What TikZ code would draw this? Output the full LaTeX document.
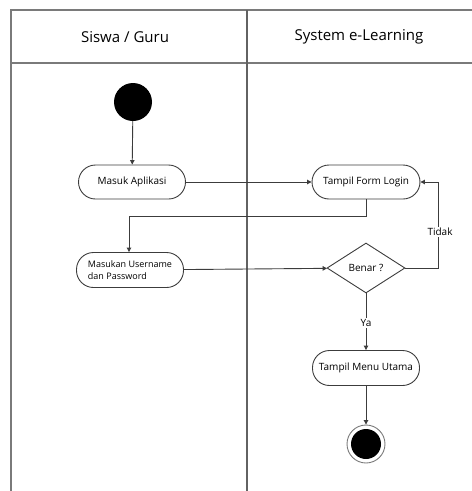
\documentclass[tikz,border=0pt]{standalone}
\usepackage{fontspec}
\setmainfont{Open Sans}
\usetikzlibrary{shapes.geometric,arrows.meta}
\definecolor{frameg}{HTML}{7A7A7A}
\definecolor{lineg}{HTML}{3C3C3C}
\tikzset{
  act/.style={draw=lineg, line width=0.9pt, rounded corners=17pt, minimum width=107pt, minimum height=34pt, inner sep=0pt, font=\fontsize{10}{12}\selectfont},
  dec/.style={draw=lineg, line width=0.9pt, diamond, aspect=1.55, minimum width=78pt, minimum height=50pt, inner sep=0pt, font=\fontsize{10}{12}\selectfont},
  flow/.style={draw=lineg, line width=0.9pt, -{Triangle[length=4.5pt,width=4.5pt]}},
  frame/.style={draw=frameg, line width=1.3pt},
  lbl/.style={fill=white, inner sep=1pt, font=\fontsize{10}{12}\selectfont},
  head/.style={font=\fontsize{15}{18}\selectfont}
}
\begin{document}
\begin{tikzpicture}[x=1pt,y=-1pt]
\useasboundingbox (0,0) rectangle (472,491);
% swimlane frame
\draw[frame] (11,491) -- (11,10) -- (472,10);
\draw[frame] (11,63) -- (472,63);
\draw[frame, draw=frameg!80!black] (247,10) -- (247,491);
\node[head] (h1) at (125,37) {Siswa / Guru};
\node[head] (h2) at (359,37) {System e-Learning};
% nodes
\node[circle, fill=black, minimum size=38pt, inner sep=0pt] (start) at (133,102) {};
\node[act] (masuk) at (132,182) {Masuk Aplikasi};
\node[act, minimum width=108pt] (form) at (366,182) {Tampil Form Login};
\node[act, minimum height=35pt, align=left, font=\fontsize{9}{12.5}\selectfont] (user) at (130,270) {Masukan Username\\dan Password};
\node[dec] (benar) at (366,268) {Benar ?};
\node[act, minimum height=35pt] (menu) at (366,368) {Tampil Menu Utama};
\node[circle, draw=frameg, line width=0.9pt, fill=white, minimum size=38pt, inner sep=0pt] (end) at (366,444) {};
\node[circle, fill=black, minimum size=30pt, inner sep=0pt] at (end) {};
% connectors
\coordinate (c1) at (366,216);
\coordinate (c2) at (129,216);
\coordinate (c3) at (438,268);
\coordinate (c4) at (438,182);
\draw[flow] (start) -- (masuk);
\draw[flow] (masuk) -- (form);
\draw[flow] (form.south) -- (c1) -- (c2) -- (user.north -| c2);
\draw[flow] (user) -- (benar);
\draw[flow] (benar.east) -- (c3) -- (c4) -- (form.east);
\node[lbl] (tidak) at (440,232) {Tidak};
\draw[flow] (benar) -- (menu);
\node[lbl] (ya) at (366,323) {Ya};
\draw[flow] (menu) -- (end);
\end{tikzpicture}
\end{document}
